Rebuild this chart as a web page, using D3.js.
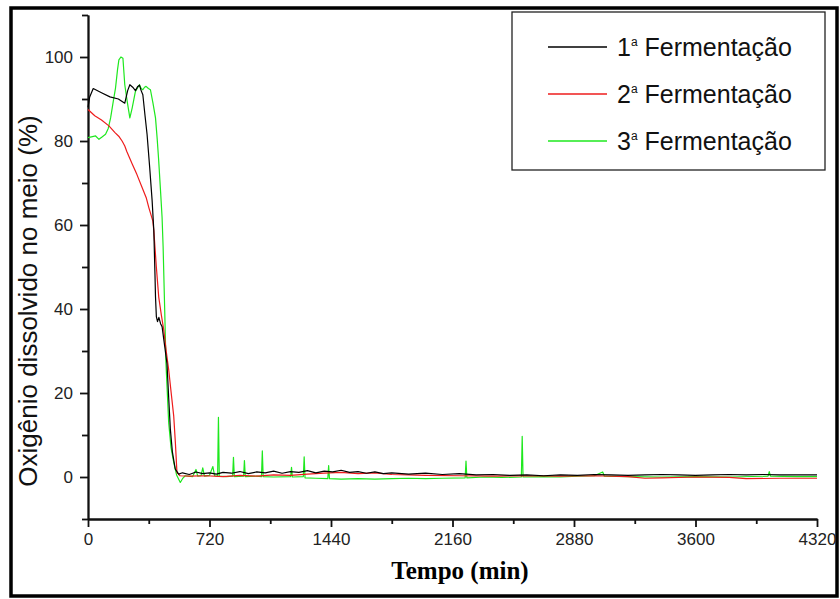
<!DOCTYPE html>
<meta charset="utf-8">
<style>
    body { margin: 0; background: #fff; }
    .axis path, .axis line { stroke: #111; stroke-width: 1.8px; }
    .axis text { font-family: Arial, "Liberation Sans", sans-serif; font-size: 17px; fill: #222; }
    .serie { fill: none; stroke-width: 1.2px; stroke-linejoin: round; }
    .legend text { font-family: Arial, "Liberation Sans", sans-serif; font-size: 25px; fill: #111; }
</style>
<svg width="840" height="599"></svg>
<script src="https://cdnjs.cloudflare.com/ajax/libs/d3/7.8.5/d3.min.js"></script>
<script>

    // oxigenio dissolvido (%) x tempo (min)
    var ferm1 = [
        [0,88],[10,90.5],[31,92.5],[80,91.5],[130,90.5],[180,90],[218,89],[235,92],[248,93.4],
        [265,92.8],[281,92],[295,93],[305,93.3],[315,92],[325,91],[338,86],[350,81.6],[365,74],
        [380,65.8],[390,58.7],[397,48],[400,42.9],[405,38.2],[412,37],[420,38],[430,36.5],
        [439,35.8],[455,31],[468,27],[478,19],[488,11.4],[500,6],[517,1.9],[537,0.7],
        [560,1.0],[600,0.6],[640,1.2],[680,0.8],[720,1.0],[760,0.7],[800,1.1],[850,0.9],
        [900,1.3],[950,0.8],[1000,1.2],[1050,1.0],[1100,1.4],[1150,0.9],[1200,1.3],[1250,1.1],
        [1300,1.5],[1350,1.0],[1400,1.4],[1450,1.2],[1500,1.6],[1550,1.1],[1600,1.3],[1650,0.9],
        [1700,1.2],[1750,0.8],[1800,1.0],[1900,0.7],[2000,0.9],[2100,0.6],[2200,0.8],[2300,0.5],
        [2400,0.6],[2500,0.4],[2600,0.5],[2700,0.3],[2800,0.5],[2900,0.4],[3000,0.6],[3100,0.5],
        [3200,0.4],[3300,0.5],[3400,0.6],[3500,0.5],[3600,0.4],[3700,0.5],[3800,0.6],[3900,0.5],
        [4000,0.6],[4100,0.5],[4200,0.5],[4320,0.5]
    ];

    var ferm2 = [
        [0,87.5],[40,86],[80,85],[124,83.6],[160,82],[185,81],[202,80],[218,78.8],[230,77.5],
        [246,76],[262,74.5],[290,72],[320,69],[345,66.5],[360,64.2],[384,61],[390,58.7],
        [405,50],[419,42.9],[435,38.5],[449,35],[465,29.5],[478,25.6],[493,20],[508,14.5],
        [518,8],[527,1.1],[545,0.3],
        [600,0.2],[700,0.3],[800,0.1],[900,0.4],[1000,0.2],[1100,0.5],[1200,0.4],[1300,0.7],
        [1400,0.9],[1500,1.1],[1600,0.8],[1700,1.0],[1800,0.6],[1900,0.5],[2000,0.4],[2200,0.3],
        [2400,0.2],[2600,0.3],[2800,0.2],[3000,0.3],[3200,0.1],[3300,-0.3],[3400,-0.2],[3600,0.0],
        [3800,-0.1],[3900,-0.4],[4100,-0.3],[4320,-0.3]
    ];

    var ferm3 = [
        [0,80.8],[20,81],[45,81.2],[65,80.4],[85,81],[104,81.6],[120,83],[134,85.5],[150,89.5],
        [163,92.6],[175,97],[183,99.3],[195,100],[207,99.7],[218,93.4],[232,89.5],[248,85.5],
        [262,87.9],[281,91.8],[305,93.4],[315,92.5],[325,92.2],[335,92.8],[344,93],[358,92.5],
        [370,92.2],[385,89],[400,85.5],[410,80.5],[419,75.3],[430,68],[439,61.8],[445,55],
        [455,39],[462,27.1],[478,13],[492,7],[508,3.5],[525,0.5],[547,-1.3],[560,-0.4],[576,0.3],
        [620,0.1],[640,1.8],[650,0.2],[670,0.3],[680,2.2],[690,0.2],[720,0.4],[740,2.5],[750,0.3],
        [768,0.2],[773,14.2],[778,0.2],[820,0.1],[857,0.2],[862,4.7],[867,0.1],[922,0.2],
        [927,3.9],[932,0.1],[1000,0.2],[1028,0.1],[1033,6.2],[1038,0.1],[1100,0.0],[1201,0.1],
        [1206,2.3],[1211,0.0],[1276,0.1],[1281,4.8],[1286,-0.2],[1350,-0.3],[1421,-0.4],
        [1426,2.7],[1431,-0.4],[1500,-0.5],[1600,-0.4],[1700,-0.5],[1800,-0.4],[1900,-0.3],
        [2000,-0.4],[2100,-0.3],[2235,-0.2],[2240,3.8],[2245,-0.2],[2350,0.0],[2450,-0.1],
        [2568,0.0],[2573,9.7],[2578,0.0],[2700,0.1],[2800,0.0],[2900,0.2],[3000,0.3],[3050,1.2],
        [3060,0.2],[3200,0.1],[3400,0.0],[3600,0.1],[3800,0.0],[4030,0.2],[4037,1.3],[4044,0.2],
        [4200,0.1],[4320,0.1]
    ];

    var legendas = ["1", "2", "3"];
    var cores = ["#000000", "#ee1c1c", "#1ee81e"];
    var xTicks = [0, 720, 1440, 2160, 2880, 3600, 4320];
    var xMinor = [360, 1080, 1800, 2520, 3240, 3960];
    var yTicks = [0, 20, 40, 60, 80, 100];
    var yMinor = [-10, 10, 30, 50, 70, 90, 110];

    var svg = d3.select("svg");

    var x = d3.scaleLinear().domain([0, 4320]).range([88, 817]);
    var y = d3.scaleLinear().domain([-10, 110]).range([519, 15]);

    // moldura externa
    svg.append("rect")
            .attr("x", 11).attr("y", 8)
            .attr("width", 826).attr("height", 588)
            .attr("fill", "none")
            .attr("stroke", "#000")
            .attr("stroke-width", 3.5);

    // eixos (menores primeiro)
    svg.append("g")
            .attr("class", "axis")
            .attr("transform", "translate(0," + y(-10) + ")")
            .call(d3.axisBottom(x).tickValues(xMinor).tickSize(5).tickSizeOuter(0).tickFormat(""));

    svg.append("g")
            .attr("class", "axis")
            .attr("transform", "translate(0," + y(-10) + ")")
            .call(d3.axisBottom(x).tickValues(xTicks).tickSize(8).tickSizeOuter(0)
                    .tickPadding(6).tickFormat(d3.format("d")));

    svg.append("g")
            .attr("class", "axis")
            .attr("transform", "translate(" + x(0) + ",0)")
            .call(d3.axisLeft(y).tickValues(yMinor).tickSize(6).tickSizeOuter(0).tickFormat(""));

    svg.append("g")
            .attr("class", "axis")
            .attr("transform", "translate(" + x(0) + ",0)")
            .call(d3.axisLeft(y).tickValues(yTicks).tickSize(8).tickSizeOuter(0)
                    .tickPadding(7).tickFormat(d3.format("d")));

    var line = d3.line()
            .x(function(d) { return x(d[0]); })
            .y(function(d) { return y(d[1]); });

    var series = [ferm1, ferm2, ferm3];

    // desenha 3, 2, 1 para o preto ficar por cima
    [2, 1, 0].forEach(function(i) {
        svg.append("path")
                .datum(series[i])
                .attr("class", "serie")
                .attr("stroke", cores[i])
                .attr("d", line);
    });

    // titulos dos eixos
    svg.append("text")
            .attr("x", 460)
            .attr("y", 579)
            .attr("text-anchor", "middle")
            .style("font-family", "'Liberation Serif', 'Times New Roman', serif")
            .style("font-weight", "bold")
            .style("font-size", "25px")
            .text("Tempo (min)");

    svg.append("text")
            .attr("transform", "translate(37,301) rotate(-90)")
            .attr("text-anchor", "middle")
            .style("font-family", "Arial, 'Liberation Sans', sans-serif")
            .style("font-size", "26px")
            .style("fill", "#111")
            .text("Oxigênio dissolvido no meio (%)");

    // legenda
    var legend = svg.append("g").attr("class", "legend");

    legend.append("rect")
            .attr("x", 512).attr("y", 12)
            .attr("width", 313).attr("height", 158)
            .attr("fill", "#fff")
            .attr("stroke", "#222")
            .attr("stroke-width", 1.3);

    var item = legend.selectAll("g.item")
            .data(legendas)
            .enter().append("g")
            .attr("class", "item")
            .attr("transform", function(d, i) { return "translate(0," + (47 + i * 47) + ")"; });

    item.append("line")
            .attr("x1", 548).attr("x2", 607)
            .attr("stroke", function(d, i) { return cores[i]; })
            .attr("stroke-width", 1.3);

    var label = item.append("text")
            .attr("x", 617)
            .attr("y", 9);

    label.append("tspan").text(function(d) { return d; });
    label.append("tspan")
            .attr("dy", -10)
            .style("font-size", "12px")
            .text("a");
    label.append("tspan")
            .attr("dy", 10)
            .text(" Fermentação");

</script>
